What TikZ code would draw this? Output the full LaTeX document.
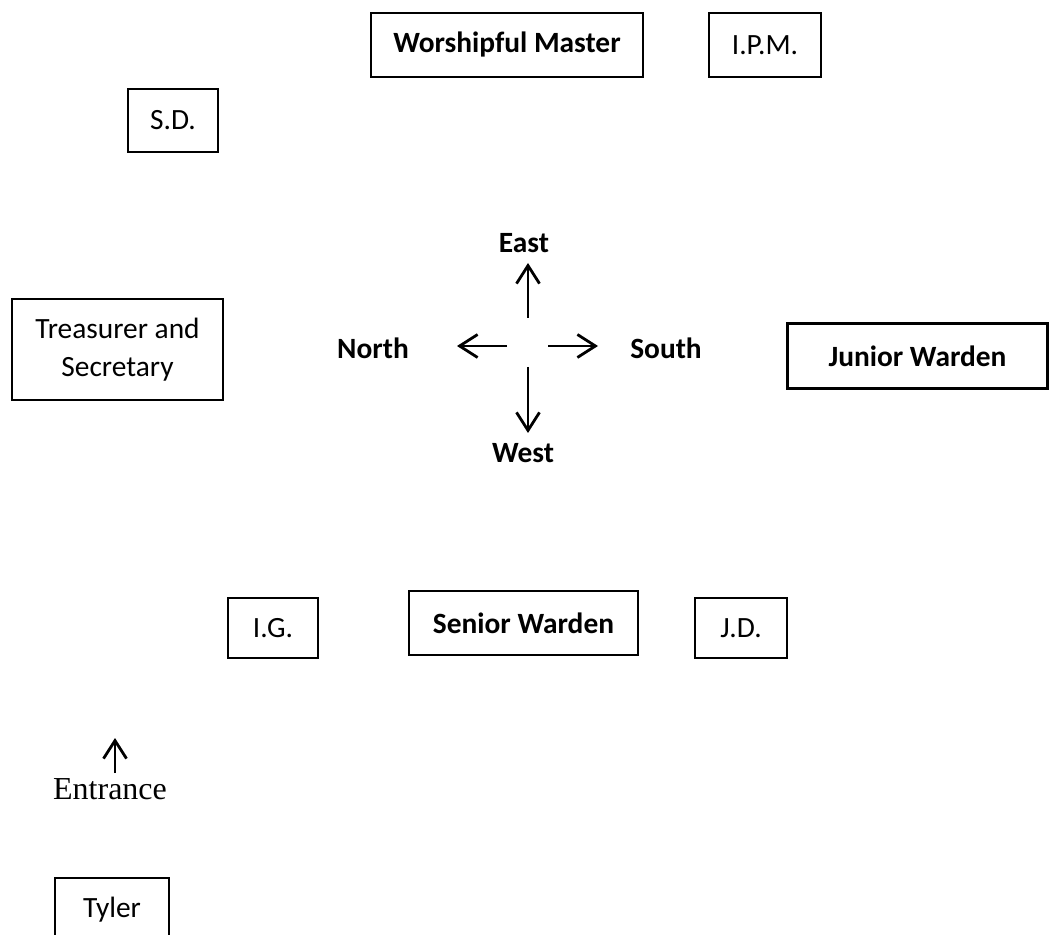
\documentclass[tikz,border=0pt]{standalone}
\usepackage{fontspec}
\setmainfont{Carlito}
\newfontfamily\timesfont{Liberation Serif}
\usetikzlibrary{arrows.meta}
\begin{document}
\begin{tikzpicture}[x=0.5pt,y=-0.5pt,
  officer/.style={draw=black,line width=1.1pt,inner sep=0pt,align=center,
    font=\fontsize{14.7}{19}\selectfont},
  chief/.style={officer,font=\fontsize{14.7}{19}\selectfont\bfseries},
  dirlabel/.style={inner sep=0pt,font=\fontsize{14.7}{19}\selectfont\bfseries},
  dirarrow/.style={line width=1.4pt,-{Straight Barb[length=9pt,width=11.5pt,line width=1.4pt]}}]
\useasboundingbox (0,0) rectangle (1050,935);
% boxes
\node[chief,minimum width=136pt,minimum height=32pt] (wm) at (507,45) {Worshipful Master};
\node[officer,minimum width=56pt,minimum height=32pt] (ipm) at (765,45) {I.P.M.};
\node[officer,minimum width=45pt,minimum height=31.5pt] (sd) at (173,120.5) {S.D.};
\node[officer,minimum width=105.5pt,minimum height=50.5pt] (ts) at (117.5,349.5) {Treasurer and\\Secretary};
\node[chief,minimum width=130pt,minimum height=32.5pt] (jw) at (917.5,356) {Junior Warden};
\node[officer,minimum width=45pt,minimum height=30pt] (ig) at (273,628) {I.G.};
\node[chief,minimum width=114.5pt,minimum height=32pt] (sw) at (523.5,623) {Senior Warden};
\node[officer,minimum width=46pt,minimum height=30pt] (jd) at (741,628) {J.D.};
\node[officer,minimum width=57pt,minimum height=32pt] (tyler) at (112,910) {Tyler};
% compass
\node[dirlabel] (east) at (524,243) {East};
\node[dirlabel] (north) at (373,348) {North};
\node[dirlabel] (south) at (666,348) {South};
\node[dirlabel] (west) at (523,453) {West};
\coordinate (upS) at (528,318);
\coordinate (upE) at (528,263);
\coordinate (leftS) at (507,346);
\coordinate (leftE) at (457,346);
\coordinate (rightS) at (548,346);
\coordinate (rightE) at (598,346);
\coordinate (downS) at (528,367);
\coordinate (downE) at (528,433);
\draw[dirarrow] (upS) -- (upE);
\draw[dirarrow] (leftS) -- (leftE);
\draw[dirarrow] (rightS) -- (rightE);
\draw[dirarrow] (downS) -- (downE);
% entrance
\node[inner sep=0pt,anchor=base,font=\timesfont\fontsize{16}{19}\selectfont] (entrance) at (110,799) {Entrance};
\coordinate (entS) at (115,773);
\coordinate (entE) at (115,738);
\draw[dirarrow] (entS) -- (entE);
\end{tikzpicture}
\end{document}
